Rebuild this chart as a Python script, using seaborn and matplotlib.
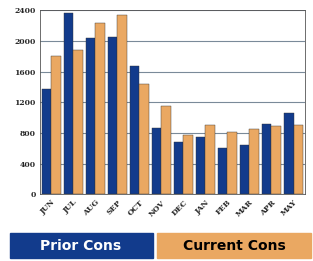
import pandas as pd
import matplotlib.pyplot as plt
import seaborn as sns
from matplotlib.patches import Rectangle

months = ["JUN", "JUL", "AUG", "SEP", "OCT", "NOV", "DEC", "JAN", "FEB", "MAR", "APR", "MAY"]
prior_cons = [1380, 2370, 2040, 2060, 1680, 870, 680, 750, 600, 640, 920, 1060]
current_cons = [1800, 1880, 2240, 2340, 1440, 1150, 770, 900, 810, 860, 890, 900]
yticks = [0, 400, 800, 1200, 1600, 2000, 2400]

df = pd.DataFrame({
    "month": months * 2,
    "value": prior_cons + current_cons,
    "series": ["Prior Cons"] * len(months) + ["Current Cons"] * len(months),
})

blue = "#123b8c"
orange = "#eaa862"

sns.set_style("white")
fig = plt.figure(figsize=(3.13, 2.61), dpi=100)
ax = fig.add_axes([0.128, 0.255, 0.845, 0.705])

sns.barplot(data=df, x="month", y="value", hue="series",
            palette=[blue, orange], saturation=1, width=0.86, gap=0,
            edgecolor="#333333", linewidth=0.3, ax=ax, legend=False)

ax.set_ylim(0, 2400)
ax.set_yticks(yticks)
ax.set_yticklabels([str(t) for t in yticks], family="serif", fontsize=5.5, fontweight="bold")
ax.set_xticks(range(len(months)))
ax.set_xticklabels(months, rotation=45, family="serif", fontsize=5.5, fontweight="bold",
                   ha="right", rotation_mode="anchor")
ax.tick_params(axis="both", length=2, pad=1)
ax.set_xlabel("")
ax.set_ylabel("")
ax.yaxis.grid(True, color="#7a8a99", linewidth=0.8)
ax.set_axisbelow(True)
for s in ax.spines.values():
    s.set_color("#555555")
    s.set_linewidth(0.6)

# legend boxes at the bottom
fig.patches.append(Rectangle((10 / 313, 3 / 261), 143 / 313, 25 / 261,
                             transform=fig.transFigure, color=blue))
fig.patches.append(Rectangle((157 / 313, 3 / 261), 154 / 313, 25 / 261,
                             transform=fig.transFigure, color=orange))
fig.text(81 / 313, 15.5 / 261, "Prior Cons", color="white", fontsize=10,
         ha="center", va="center", fontweight="bold")
fig.text(234 / 313, 15.5 / 261, "Current Cons", color="black", fontsize=10,
         ha="center", va="center", fontweight="bold")

fig.savefig("out.png", dpi=100)
